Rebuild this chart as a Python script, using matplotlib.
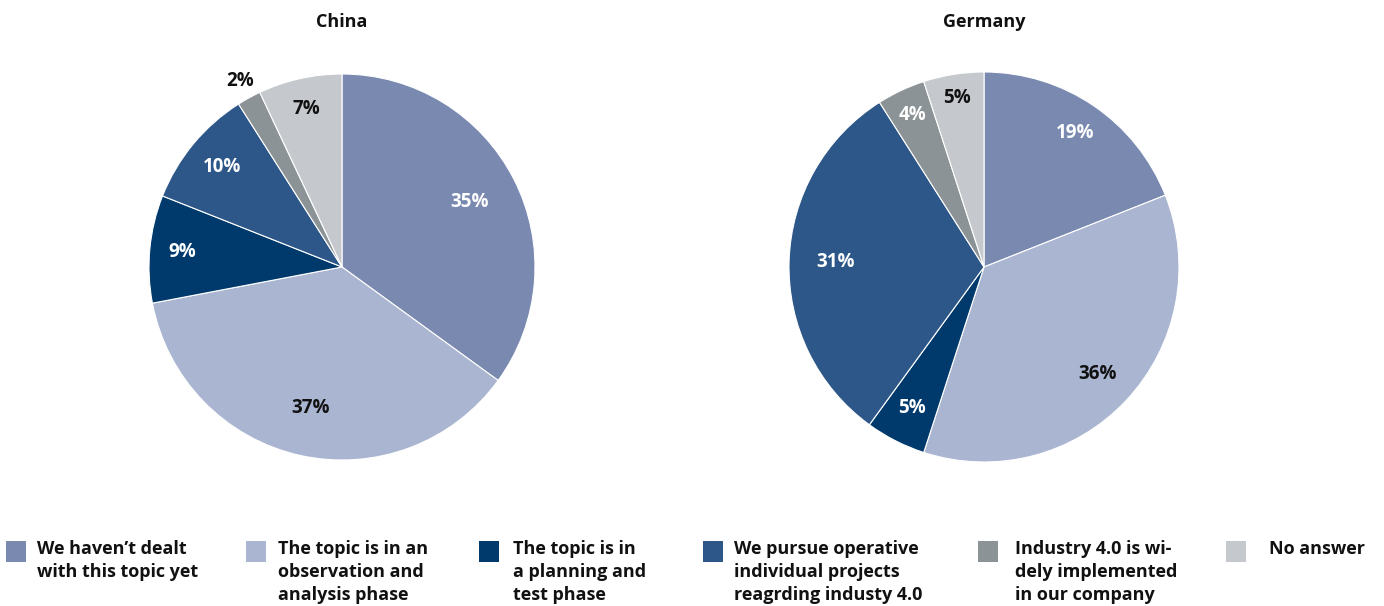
import numpy as np
import matplotlib.pyplot as plt
from matplotlib.patches import Rectangle

W, H = 1384, 606

categories = [
    "We haven\u2019t dealt\nwith this topic yet",
    "The topic is in an\nobservation and\nanalysis phase",
    "The topic is in\na planning and\ntest phase",
    "We pursue operative\nindividual projects\nreagrding industy 4.0",
    "Industry 4.0 is wi-\ndely implemented\nin our company",
    "No answer",
]
china = [35, 37, 9, 10, 2, 7]
germany = [19, 36, 5, 31, 4, 5]

colors = ["#7989b0", "#aab5d1", "#003a6c", "#2c5788", "#8c9396", "#c5c8cc"]

FONT = ["Open Sans", "DejaVu Sans"]
plt.rcParams["font.family"] = FONT
plt.rcParams["font.weight"] = "bold"


def px_axes(fig, cx, cy, r):
    # axes placed in pixel coords (origin top-left)
    return fig.add_axes([(cx - r) / W, 1 - (cy + r) / H, 2 * r / W, 2 * r / H])


def draw_pie(fig, cx, cy, r, values, title, dists, txt_cols):
    ax = px_axes(fig, cx, cy, r)
    wedges, _ = ax.pie(values, colors=colors, startangle=90, counterclock=False,
                       radius=1, wedgeprops=dict(edgecolor="white", linewidth=0.8))
    ax.set_xlim(-1, 1)
    ax.set_ylim(-1, 1)
    ax.set_aspect("equal")
    ax.axis("off")
    for w, v, d, c in zip(wedges, values, dists, txt_cols):
        ang = np.deg2rad((w.theta1 + w.theta2) / 2)
        ax.text(d * np.cos(ang), d * np.sin(ang), f"{v}%", ha="center", va="center",
                color=c, fontsize=13.5, fontweight="bold", clip_on=False)
    fig.text(cx / W, 1 - 22 / H, title, ha="center", va="center",
             fontsize=13, fontweight="bold", color="#111111")


fig = plt.figure(figsize=(W / 100, H / 100), dpi=100)

draw_pie(fig, 342, 267, 193, china, "China",
         [0.74, 0.75, 0.83, 0.81, 1.1, 0.84],
         ["white", "#111111", "white", "white", "#111111", "#111111"])
draw_pie(fig, 984, 267, 195, germany, "Germany",
         [0.83, 0.80, 0.81, 0.76, 0.86, 0.88],
         ["white", "#111111", "white", "white", "white", "#111111"])

# legend
box_x = [6, 246, 479, 703, 978, 1226]
text_x = [37, 278, 513, 734, 1015, 1269]
for bx, tx, col, lab in zip(box_x, text_x, colors, categories):
    fig.add_artist(Rectangle((bx / W, 1 - 562 / H), 20 / W, 21 / H,
                             transform=fig.transFigure, color=col, lw=0))
    fig.text(tx / W, 1 - 540 / H, lab, ha="left", va="top", fontsize=13,
             fontweight="bold", color="#111111", linespacing=1.36)

fig.savefig("out.png", dpi=100)
